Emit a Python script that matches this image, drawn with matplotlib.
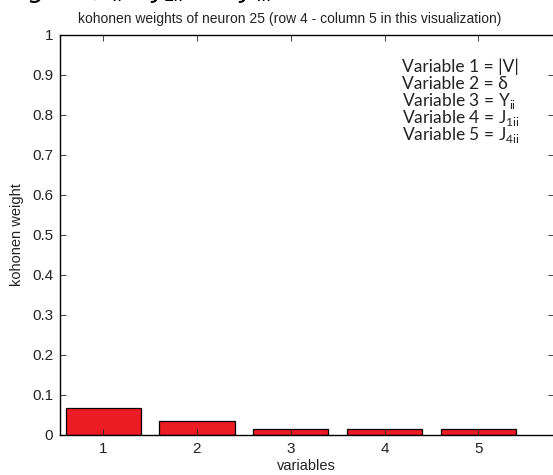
import numpy as np
import matplotlib.pyplot as plt

plt.rcParams['font.family'] = ['Liberation Sans', 'DejaVu Sans']

variables = [1, 2, 3, 4, 5]
weights = [0.068, 0.036, 0.014, 0.014, 0.014]
legend_lines = [
    'Variable 1 = |V|',
    'Variable 2 = \u03b4',
    r'Variable 3 = Y$_{\mathregular{ii}}$',
    r'Variable 4 = J$_{\mathregular{1ii}}$',
    r'Variable 5 = J$_{\mathregular{4ii}}$',
]
# pieces of the page text cut off above the figure
top_pieces = [(28, r'$g$'), (92, ','), (112, r'$_{ii}$,'), (150, r'$J_{1ii}$'), (238, r'$J_{4ii}$')]

W, H = 553, 475
fig = plt.figure(figsize=(W / 100, H / 100), dpi=100)
# axes box in pixels: left 60, right ~553, top 35, bottom 435
ax = fig.add_axes([60 / W, 1 - 435 / H, (553.5 - 60) / W, 400 / H])

ax.bar(variables, weights, width=0.8, color='#ed1c24', edgecolor='black', linewidth=0.9)

ax.set_xlim(0.54, 5.80)
ax.set_ylim(0, 1)
ax.set_xticks(variables)
ax.set_yticks(np.arange(0, 1.01, 0.1))
ax.set_yticklabels(['0', '0.1', '0.2', '0.3', '0.4', '0.5', '0.6', '0.7', '0.8', '0.9', '1'])
ax.tick_params(direction='in', length=4, width=0.6, top=True, right=True,
               labelsize=11, pad=5, colors='#222222')
for s in ax.spines.values():
    s.set_linewidth(1.0)

ax.set_title('kohonen weights of neuron 25 (row 4 - column 5 in this visualization)',
             fontsize=10, pad=9, x=(290 - 60) / (553.5 - 60), color='#222222')
ax.set_xlabel('variables', fontsize=10.5, labelpad=2, color='#222222')
ax.set_ylabel('kohonen weight', fontsize=10.5, labelpad=6, color='#222222')

# variable legend, one text per line on fixed baselines
for i, line in enumerate(legend_lines):
    fig.text(402 / W, 1 - (72 + 17 * i) / H, line, fontsize=12.5, va='baseline',
             family=['Lato', 'DejaVu Sans'], color='#222222')

for x, piece in top_pieces:
    fig.text(x / W, 1 + 3 / H, piece, fontsize=19, va='baseline', family='DejaVu Serif')

fig.savefig('out.png', dpi=100)
